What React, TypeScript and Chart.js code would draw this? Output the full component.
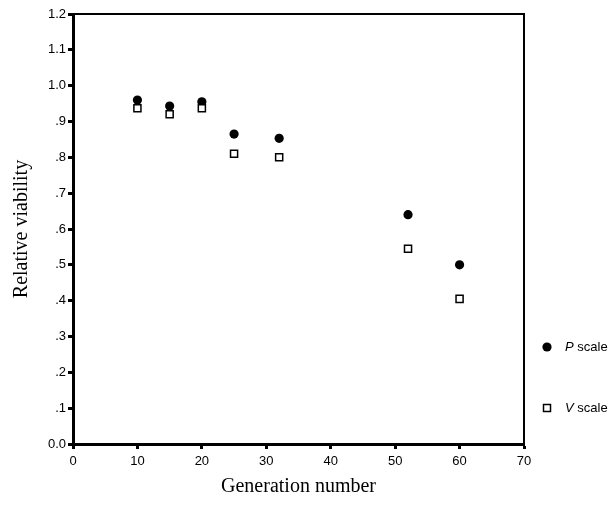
import React, { useEffect, useRef } from "react";
import { Chart, registerables } from "chart.js";

Chart.register(...registerables);

const generations = [10, 15, 20, 25, 32, 52, 60];
const pScale = [0.96, 0.943, 0.955, 0.865, 0.853, 0.64, 0.5];
const vScale = [0.937, 0.92, 0.937, 0.81, 0.8, 0.545, 0.405];
const legendLabels = [
  { italic: "P", rest: " scale" },
  { italic: "V", rest: " scale" },
];
const xTitle = "Generation number";
const yTitle = "Relative viability";

const W = 610;
const H = 508;

const frameAndLegend = {
  id: "frameAndLegend",
  afterDraw(chart: any) {
    const { ctx, chartArea } = chart;
    const { left, right, top, bottom } = chartArea;
    ctx.save();
    ctx.strokeStyle = "#000";
    ctx.lineWidth = 2;
    ctx.beginPath();
    ctx.moveTo(left, top);
    ctx.lineTo(right, top);
    ctx.lineTo(right, bottom);
    ctx.stroke();

    // legend
    const lx = right + 23;
    const tx = right + 41;
    const ys = [347, 408];
    // P marker
    ctx.fillStyle = "#000";
    ctx.beginPath();
    ctx.arc(lx, ys[0], 4.6, 0, Math.PI * 2);
    ctx.fill();
    // V marker
    ctx.lineWidth = 1.5;
    ctx.fillStyle = "#fff";
    ctx.beginPath();
    ctx.rect(lx - 3.5, ys[1] - 3.5, 7, 7);
    ctx.fill();
    ctx.stroke();

    ctx.fillStyle = "#000";
    ctx.textBaseline = "middle";
    ctx.textAlign = "left";
    legendLabels.forEach((l, i) => {
      ctx.font = "italic 13px 'Liberation Sans'";
      ctx.fillText(l.italic, tx, ys[i]);
      const w = ctx.measureText(l.italic).width;
      ctx.font = "13px 'Liberation Sans'";
      ctx.fillText(l.rest, tx + w, ys[i]);
    });
    ctx.restore();
  },
};

export default function App() {
  const ref = useRef<HTMLCanvasElement>(null);
  useEffect(() => {
    if (!ref.current) return;
    const tickFont = { family: "'Liberation Sans'", size: 13 };
    const titleFont = { family: "'Liberation Serif'", size: 20 };
    const chart = new Chart(ref.current, {
      type: "scatter",
      data: {
        datasets: [
          {
            label: "V scale",
            data: generations.map((g, i) => ({ x: g, y: vScale[i] })),
            pointStyle: "rect",
            pointRadius: 5,
            pointHoverRadius: 5,
            backgroundColor: "#fff",
            borderColor: "#000",
            borderWidth: 1.5,
            order: 0,
          },
          {
            label: "P scale",
            data: generations.map((g, i) => ({ x: g, y: pScale[i] })),
            pointStyle: "circle",
            pointRadius: 4.6,
            pointHoverRadius: 4.6,
            backgroundColor: "#000",
            borderColor: "#000",
            borderWidth: 0,
            order: 1,
          },
        ],
      },
      options: {
        animation: false,
        responsive: false,
        devicePixelRatio: 1,
        layout: { padding: { top: 14, right: W - 524, bottom: 0, left: 0 } },
        plugins: {
          legend: { display: false },
          tooltip: { enabled: false },
        },
        scales: {
          x: {
            type: "linear",
            min: 0,
            max: 70,
            ticks: {
              stepSize: 10,
              font: tickFont,
              color: "#000",
              padding: 5,
              maxRotation: 0,
            },
            grid: {
              drawOnChartArea: false,
              drawTicks: true,
              tickLength: 5,
              tickWidth: 3,
              tickColor: "#000",
            },
            border: { display: true, color: "#000", width: 3 },
            title: {
              display: true,
              text: xTitle,
              font: titleFont,
              color: "#000",
              padding: { top: 0, bottom: 9 },
            },
            afterFit: (s: any) => {
              s.height = H - 444;
            },
          },
          y: {
            type: "linear",
            min: 0,
            max: 1.2,
            ticks: {
              stepSize: 0.1,
              font: tickFont,
              color: "#000",
              padding: 2,
              callback: (v: any) => {
                const n = Math.round(Number(v) * 10);
                if (n === 0 || n >= 10) return (n / 10).toFixed(1);
                return "." + n;
              },
            },
            grid: {
              drawOnChartArea: false,
              drawTicks: true,
              tickLength: 5,
              tickWidth: 3,
              tickColor: "#000",
            },
            border: { display: true, color: "#000", width: 3 },
            title: {
              display: true,
              text: yTitle,
              font: titleFont,
              color: "#000",
              padding: { top: 10, bottom: 0 },
            },
            afterFit: (s: any) => {
              s.width = 73;
            },
          },
        },
      },
      plugins: [frameAndLegend],
    });
    return () => chart.destroy();
  }, []);
  return (
    <div style={{ position: "absolute", left: 0, top: 0, width: W, height: H }}>
      <canvas ref={ref} width={W} height={H} style={{ width: W, height: H, display: "block" }} />
    </div>
  );
}
